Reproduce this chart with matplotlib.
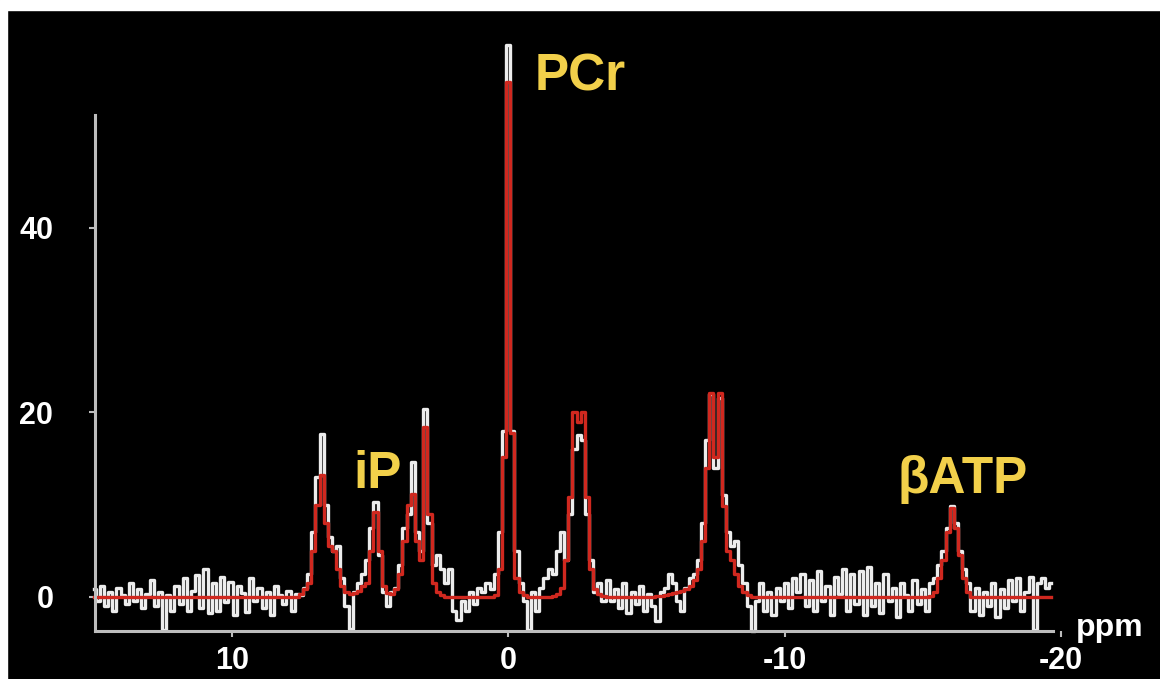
import numpy as np
import matplotlib
matplotlib.use("Agg")
import matplotlib.pyplot as plt
from matplotlib.patches import Rectangle

# chemical shift grid (ppm), 0.15 ppm per point, from 15 down to -19.65
ppm_start = 15.0
ppm_step = 0.15

measured = [
    0.8, -0.5, 1.2, -1.0, 0.5, -1.5, 1.0, 0.2, -0.8, 1.5,
    -0.5, 0.8, -1.2, 0.3, 1.8, -1.0, 0.5, -3.6, 0.2, -1.5,
    1.2, -0.8, 2.0, -1.5, 0.6, 2.4, -1.2, 3.0, -1.8, 1.5,
    -1.5, 2.2, -0.6, 1.6, -2.0, 1.2, 0.4, -1.6, 2.0, -0.5,
    1.0, -1.2, 0.5, -2.0, 1.2, 0.2, -0.8, 0.6, -1.5, 0.3,
    0.2, 1.0, 2.5, 7.0, 13.0, 17.6, 10.0, 6.5, 5.0, 5.5,
    2.0, -1.0, -3.5, 0.5, 1.5, 2.5, 4.0, 7.5, 10.3, 4.5,
    0.5, -1.0, 0.5, 1.0, 3.5, 7.5, 9.0, 14.6, 7.0, 5.0,
    20.3, 8.0, 3.5, 4.5, 3.0, 1.5, 3.0, -1.5, -2.5, -0.5,
    -1.5, 0.5, -0.8, 1.0, 0.5, 1.5, 0.8, 2.5, 7.0, 18.0,
    59.8, 18.0, 5.0, 1.5, -0.5, -3.6, 0.5, -1.5, 1.0, 2.0,
    3.0, 2.5, 5.0, 7.0, 4.0, 9.0, 16.0, 17.5, 17.0, 9.0,
    4.0, 0.5, 1.5, -0.5, 1.8, -0.5, 0.8, -1.2, 1.5, -1.8,
    0.5, -0.8, 1.2, -1.5, 0.3, -1.0, -2.6, 0.5, 1.0, 2.5,
    1.5, -0.5, -1.5, 1.0, 2.0, 2.5, 4.0, 8.0, 17.0, 22.0,
    14.0, 21.5, 11.0, 7.0, 5.5, 6.0, 3.5, 1.5, -1.0, -3.7,
    -0.5, 1.5, -1.5, 0.5, -2.0, 1.0, -0.5, 1.5, -1.2, 2.0,
    0.5, 2.5, -1.0, 1.8, -1.5, 2.8, -0.5, 1.2, -2.0, 2.2,
    0.3, 3.0, -1.5, 2.5, -0.8, 2.8, -2.0, 3.2, -1.0, 1.5,
    -1.8, 2.5, -0.5, 1.0, -2.2, 1.5, 0.2, -1.5, 1.8, -0.8,
    0.8, -1.5, 1.5, 2.0, 3.5, 5.0, 7.5, 9.8, 8.0, 5.0,
    3.0, 1.5, -1.5, 1.0, -2.0, 0.5, -1.0, 1.5, -2.2, 0.8,
    -1.2, 1.8, -0.5, 2.0, -1.5, 0.5, 2.2, -3.6, 1.5, 2.0,
    1.0, 1.5,
]

# fitted spectrum (red)
fitted = (
    [0.0] * 50 +
    [0.3, 0.8, 1.5, 5.0, 10.0, 13.2, 8.0, 5.5, 5.0, 3.0,
     1.2, 0.5, 0.3, 0.4, 0.6, 1.2, 1.5, 5.0, 9.2, 5.0,
     1.2, 0.4, 0.3, 0.8, 2.5, 6.0, 10.0, 11.1, 6.0, 4.0,
     18.4, 9.0, 1.5, 0.5, 0.2, 0.0, 0.0, 0.0, 0.0, 0.0,
     0.0, 0.0, 0.0, 0.0, 0.0, 0.0, 0.0, 0.2, 3.0, 15.2,
     55.8, 17.8, 2.0, 0.5, 0.2, 0.0, 0.0, 0.0, 0.0, 0.0,
     0.0, 0.1, 0.3, 1.0, 4.0, 10.8, 20.0, 18.9, 20.0, 10.8,
     3.0, 0.8, 0.3, 0.1, 0.0, 0.0, 0.0, 0.0, 0.0, 0.0,
     0.0, 0.0, 0.0, 0.0, 0.0, 0.0, 0.1, 0.1, 0.2, 0.3,
     0.4, 0.5, 0.6, 0.8, 1.2, 1.8, 3.0, 6.0, 14.0, 22.1,
     15.2, 22.1, 9.8, 5.0, 4.0, 2.5, 1.2, 0.5, 0.2, 0.0] +
    [0.0] * 40 +
    [0.0, 0.0, 0.1, 0.5, 2.0, 4.0, 7.0, 9.6, 7.5, 4.5,
     2.0, 0.5] +
    [0.0] * 20
)

peak_names = ["PCr", "iP", "βATP"]
peak_label_ppm = [-2.6, 4.72, -16.44]
peak_label_y = [56.3, 13.3, 12.7]

x_ticks = [10, 0, -10, -20]
y_ticks = [0, 20, 40]

ppm = ppm_start - ppm_step * np.arange(len(measured))

fig = plt.figure(figsize=(11.6, 6.79), dpi=100, facecolor="black")
ax = fig.add_axes([95 / 1160, 48 / 679, (1061 - 95) / 1160, (631 - 115) / 679])
ax.set_facecolor("black")

ax.plot(ppm, measured, drawstyle="steps-mid", color="#ececec", lw=2.4, clip_on=False)
ax.plot(ppm, fitted, drawstyle="steps-mid", color="#d0281f", lw=2.4, clip_on=False)

ax.set_xlim(14.95, -20.0)
ax.set_ylim(-3.7, 52.2)

for s in ["top", "right"]:
    ax.spines[s].set_visible(False)
for s in ["left", "bottom"]:
    ax.spines[s].set_color("#bdbdbd")
    ax.spines[s].set_linewidth(2.2)
ax.spines["bottom"].set_bounds(14.95, -19.7)

ax.set_xticks(x_ticks)
ax.set_yticks(y_ticks)
ax.set_xticklabels([str(t) for t in x_ticks])
ax.tick_params(colors="#bdbdbd", length=4, width=1.5)
ax.tick_params(axis="x", pad=7)
ax.tick_params(axis="y", pad=26)
for lab in ax.get_xticklabels() + ax.get_yticklabels():
    lab.set_color("white")
    lab.set_fontsize(22)
    lab.set_fontweight("bold")
    lab.set_fontfamily("Liberation Sans")

for name, px, py in zip(peak_names, peak_label_ppm, peak_label_y):
    ax.text(px, py, name, color="#f2d04a", fontsize=37, fontweight="bold",
            family="Liberation Sans", ha="center", va="center", clip_on=False)

ax.text(-21.75, -3.4, "ppm", color="white", fontsize=23, fontweight="bold",
        family="Liberation Sans", ha="center", va="center", clip_on=False)

# white strips at the top and left edges of the picture
fig.add_artist(Rectangle((0, 1 - 10 / 679), 1, 10 / 679, transform=fig.transFigure,
                         color="white", zorder=10))
fig.add_artist(Rectangle((0, 0), 7 / 1160, 1, transform=fig.transFigure,
                         color="white", zorder=10))

fig.savefig("out.png", dpi=100, facecolor="black")
